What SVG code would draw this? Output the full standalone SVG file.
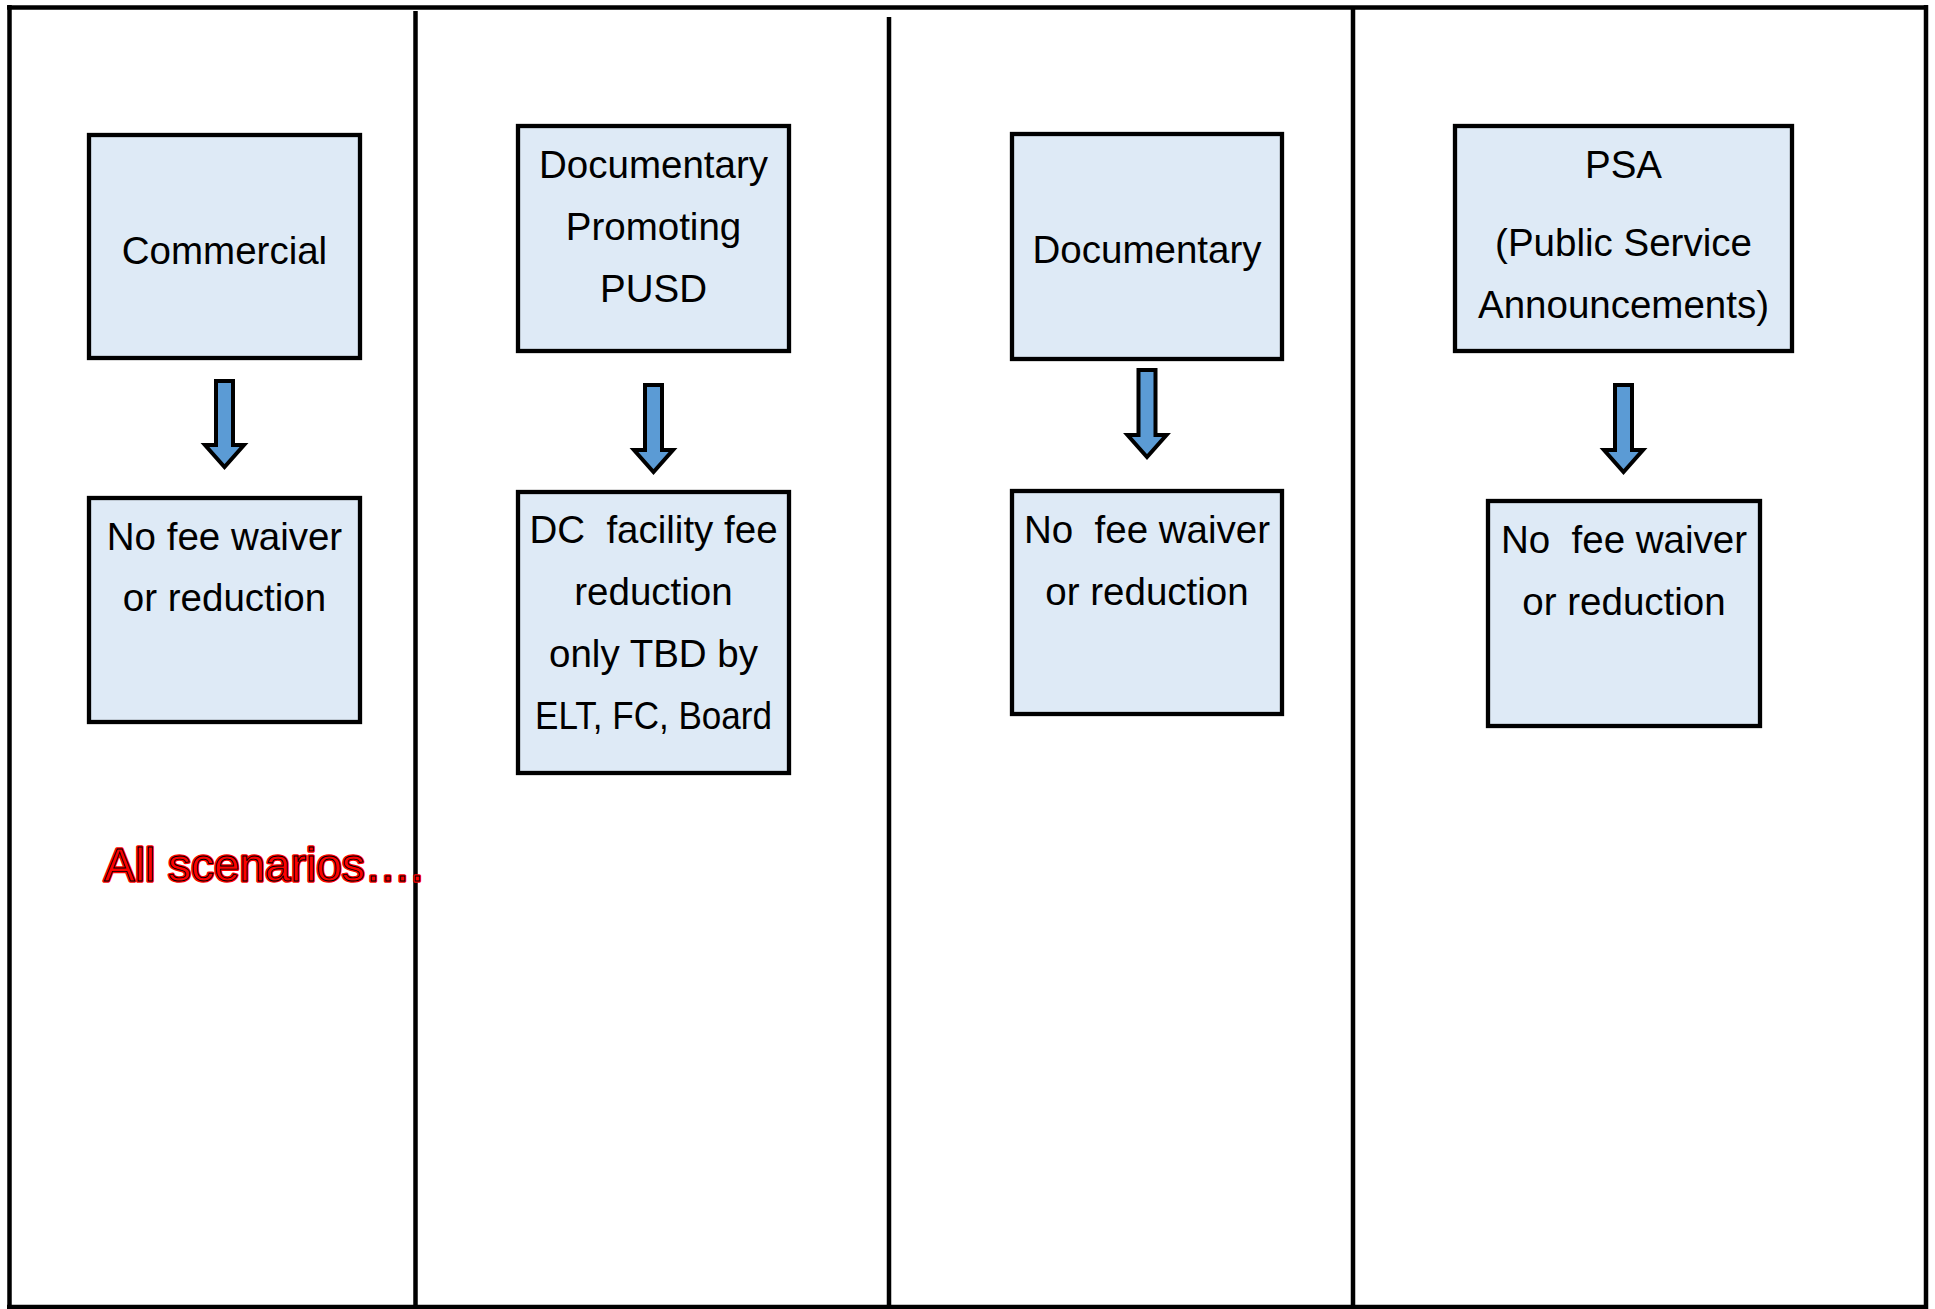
<svg xmlns="http://www.w3.org/2000/svg" width="1935" height="1309" viewBox="0 0 1935 1309">
<style>
.frame{stroke:#000;stroke-width:4.5;fill:none}
.box{fill:#deeaf6;stroke:#000;stroke-width:4.3}
.arrow{fill:#5b9bd5;stroke:#000;stroke-width:4;stroke-linejoin:miter}
.t{font-family:"Liberation Sans",Arial,sans-serif;font-size:38.5px;fill:#000;text-anchor:middle}
.red{font-family:"Liberation Sans",Arial,sans-serif;font-size:46px}
</style>
<rect width="1935" height="1309" fill="#fff"/>
<g id="frame">
<line class="frame" x1="7" y1="7.5" x2="1928" y2="7.5"/>
<line class="frame" x1="9.5" y1="5" x2="9.5" y2="1309"/>
<line class="frame" x1="1926" y1="5" x2="1926" y2="1309"/>
<line class="frame" x1="7" y1="1307" x2="1928" y2="1307"/>
<line class="frame" x1="415.5" y1="11" x2="415.5" y2="1307"/>
<line class="frame" x1="889" y1="17" x2="889" y2="1307"/>
<line class="frame" x1="1353" y1="7" x2="1353" y2="1307"/>
</g>
<g id="connectors">
<path class="arrow" d="M216,381 H233 V445 H244 L224.5,467 L205,445 H216 Z"/>
<path class="arrow" d="M645,385 H662 V450 H673 L653.5,472 L634,450 H645 Z"/>
<path class="arrow" d="M1138.5,370 H1155.5 V435 H1166.5 L1147,457 L1127.5,435 H1138.5 Z"/>
<path class="arrow" d="M1615,385 H1632 V450 H1643 L1623.5,472 L1604,450 H1615 Z"/>
</g>
<g id="commercial">
<rect class="box" x="89" y="135" width="271" height="223"/>
<text class="t" x="224.5" y="264">Commercial</text>
</g>
<g id="commercial-result">
<rect class="box" x="89" y="498" width="271" height="224"/>
<text class="t" x="224.5" y="550">No fee waiver</text>
<text class="t" x="224.5" y="611">or reduction</text>
</g>
<g id="doc-promoting">
<rect class="box" x="518" y="126" width="271" height="225"/>
<text class="t" x="653.5" y="178">Documentary</text>
<text class="t" x="653.5" y="240">Promoting</text>
<text class="t" x="653.5" y="302">PUSD</text>
</g>
<g id="doc-promoting-result">
<rect class="box" x="518" y="492" width="271" height="281"/>
<text class="t" x="653.5" y="543" xml:space="preserve">DC  facility fee</text>
<text class="t" x="653.5" y="605">reduction</text>
<text class="t" x="653.5" y="667">only TBD by</text>
<text class="t" x="653.5" y="729" textLength="237" lengthAdjust="spacingAndGlyphs">ELT, FC, Board</text>
</g>
<g id="documentary">
<rect class="box" x="1012" y="134" width="270" height="225"/>
<text class="t" x="1147" y="263">Documentary</text>
</g>
<g id="documentary-result">
<rect class="box" x="1012" y="491" width="270" height="223"/>
<text class="t" x="1147" y="543" xml:space="preserve">No  fee waiver</text>
<text class="t" x="1147" y="605">or reduction</text>
</g>
<g id="psa">
<rect class="box" x="1455" y="126" width="337" height="225"/>
<text class="t" x="1623.5" y="178">PSA</text>
<text class="t" x="1623.5" y="256">(Public Service</text>
<text class="t" x="1623.5" y="318">Announcements)</text>
</g>
<g id="psa-result">
<rect class="box" x="1488" y="501" width="272" height="225"/>
<text class="t" x="1624" y="553" xml:space="preserve">No  fee waiver</text>
<text class="t" x="1624" y="615">or reduction</text>
</g>
<g id="note">
<text class="red" x="104" y="881" fill="#ff0000" stroke="#ff0000" stroke-width="3.5" stroke-linejoin="round">All scenarios….</text>
<text class="red" x="104" y="881" fill="#ff0000" stroke="#000" stroke-width="0.9">All scenarios….</text>
</g>
</svg>
